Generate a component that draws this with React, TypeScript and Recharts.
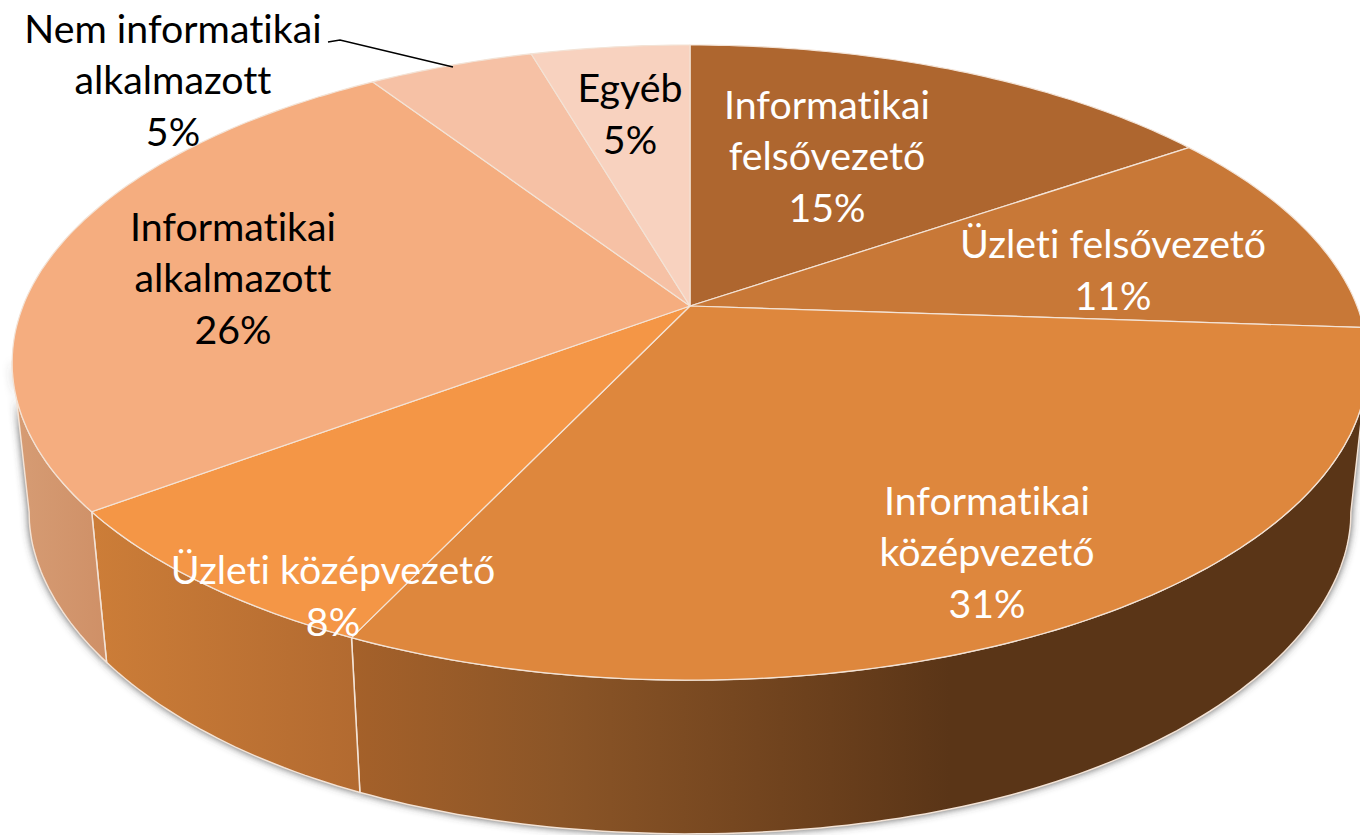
import React from 'react'
import { PieChart, Pie } from 'recharts'

const categories = [
  'Informatikai\nfelsővezető',
  'Üzleti felsővezető',
  'Informatikai\nközépvezető',
  'Üzleti középvezető',
  'Informatikai\nalkalmazott',
  'Nem informatikai\nalkalmazott',
  'Egyéb',
]
const shares = [15.4, 10.7, 30.9, 7.8, 26.0, 4.7, 4.5]

const topColors = ['#AE662F', '#C87837', '#DE873D', '#F49646', '#F5AD7F', '#F6C1A5', '#F8D2BF']
const wallColors = ['#AE662F', '#C87837', 'url(#wallMid)', 'url(#wallLow)', 'url(#wallLeft)', '#F6C1A5', '#F8D2BF']
const labelColors = ['#fff', '#fff', '#fff', '#fff', '#000', '#000', '#000']
// label centres, px
const labelCentres = [
  [827, 157],
  [1113, 271],
  [987, 553],
  [333, 597],
  [233, 279],
  [173, 81],
  [630, 115],
]

const rows = categories.map((name, i) => ({
  name,
  value: shares[i],
  fill: topColors[i],
  wall: wallColors[i],
}))

const CX = 690
const CY = 306
const RADIUS = 667
const TILT = 0.461
const PERSP = 0.178
const EDGE = '#F3E3D6'

// perspective view of the disc rim, theta clockwise from 12 o'clock
function rim(theta: number, r: number) {
  const a = (theta * Math.PI) / 180
  const u = Math.sin(a)
  const v = -Math.cos(a)
  const d = 1 - PERSP * v
  return [CX + (r * u) / d, CY + (r * TILT * v) / d]
}

// same rim on the underside of the disc, pulled up a little at the far sides
function under(theta: number, r: number) {
  const [x, y] = rim(theta, r)
  const side = (0.975 * Math.abs(x - 690)) / 660
  return [690 + 0.975 * (x - 690), 480 + 0.946 * (y - 306) - 20 * side ** 4]
}

function arc(from: number, to: number, r: number, fn: typeof rim) {
  const n = Math.max(2, Math.ceil(Math.abs(to - from)))
  const pts: number[][] = []
  for (let i = 0; i <= n; i++) pts.push(fn(from + ((to - from) * i) / n, r))
  return pts
}

const toPath = (pts: number[][]) =>
  pts.map((p, i) => `${i ? 'L' : 'M'}${p[0].toFixed(1)} ${p[1].toFixed(1)}`).join('') + 'Z'

function wallPath(props: any) {
  const t1 = Math.max(90 - props.startAngle, 100)
  const t2 = Math.min(90 - props.endAngle, 260)
  if (t2 <= t1) return null
  return toPath([...arc(t1, t2, props.outerRadius, rim), ...arc(t2, t1, props.outerRadius, under)])
}

function TopSlice(props: any) {
  const pts = arc(90 - props.startAngle, 90 - props.endAngle, props.outerRadius, rim)
  return <path d={toPath([[CX, CY], ...pts])} fill={props.fill} stroke={EDGE} strokeWidth={1.2} strokeLinejoin="round" />
}

function WallSlice(props: any) {
  const d = wallPath(props)
  if (!d) return null
  return <path d={d} fill={props.wall ?? props.payload?.wall} stroke={EDGE} strokeWidth={1.5} strokeLinejoin="round" />
}

function WallShadow(props: any) {
  const d = wallPath(props)
  if (!d) return null
  return <path d={d} fill="#444" filter="url(#wallShadow)" />
}

function SliceLabel(props: any) {
  const i = props.index
  const [x, y] = labelCentres[i]
  const lines = [...categories[i].split('\n'), `${Math.round(shares[i])}%`]
  const lh = 51.5
  const top = y - ((lines.length - 1) * lh) / 2
  return (
    <g>
      {i === 5 && <polyline points="328,42 340,40 453,67" fill="none" stroke="#000" strokeWidth={1.5} />}
      <text
        x={x}
        textAnchor="middle"
        fontFamily="Lato"
        fontSize={39.3}
        fill={labelColors[i]}
        style={{ fontVariantLigatures: 'none' }}
      >
        {lines.map((l, k) => (
          <tspan key={k} x={x} y={top + k * lh + 13}>
            {l}
          </tspan>
        ))}
      </text>
    </g>
  )
}

export default function App() {
  const common = {
    data: rows,
    dataKey: 'value',
    nameKey: 'name',
    cx: CX,
    cy: CY,
    outerRadius: RADIUS,
    startAngle: 90,
    endAngle: -270,
    isAnimationActive: false,
  }
  return (
    <div style={{ position: 'absolute', left: 0, top: 0, width: 1360, height: 835, overflow: 'hidden', background: '#fff' }}>
      <PieChart width={1360} height={835} margin={{ top: 0, right: 0, bottom: 0, left: 0 }}>
        <defs>
          <filter id="wallShadow" filterUnits="userSpaceOnUse" x={-50} y={0} width={1460} height={900}>
            <feGaussianBlur stdDeviation={4.5} />
          </filter>
          <linearGradient id="wallMid" gradientUnits="userSpaceOnUse" x1={352} y1={0} x2={950} y2={0}>
            <stop offset="0" stopColor="#A5612A" />
            <stop offset="0.35" stopColor="#8B5527" />
            <stop offset="0.8" stopColor="#6A3F1C" />
            <stop offset="1" stopColor="#5A3517" />
          </linearGradient>
          <linearGradient id="wallLow" gradientUnits="userSpaceOnUse" x1={95} y1={0} x2={360} y2={0}>
            <stop offset="0" stopColor="#CC7D38" />
            <stop offset="1" stopColor="#B26A30" />
          </linearGradient>
          <linearGradient id="wallLeft" gradientUnits="userSpaceOnUse" x1={15} y1={0} x2={105} y2={0}>
            <stop offset="0" stopColor="#D69C74" />
            <stop offset="1" stopColor="#CF9067" />
          </linearGradient>
        </defs>
        <Pie {...common} shape={WallShadow} inactiveShape={WallShadow} label={false} labelLine={false} />
        <Pie {...common} shape={WallSlice} inactiveShape={WallSlice} label={false} labelLine={false} />
        <Pie {...common} shape={TopSlice} inactiveShape={TopSlice} activeShape={TopSlice} label={SliceLabel} labelLine={false} />
      </PieChart>
    </div>
  )
}
